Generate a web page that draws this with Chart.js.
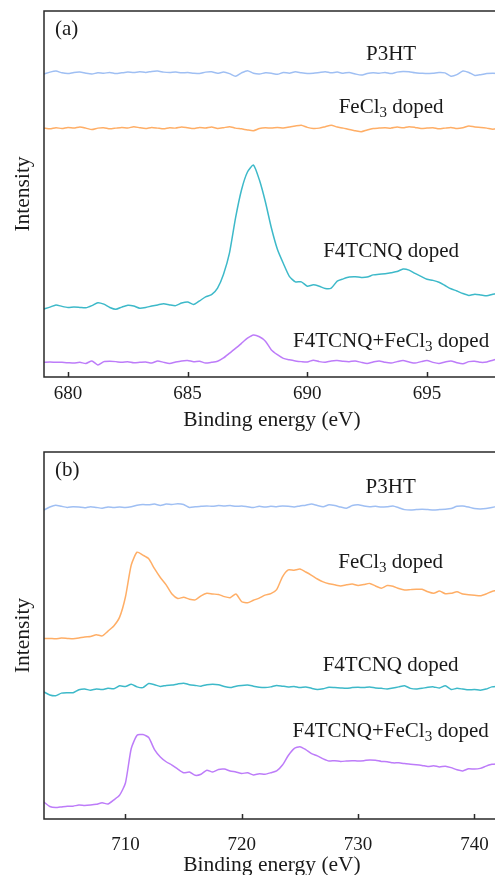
<!DOCTYPE html>
<html>
<head>
<meta charset="utf-8">
<script src="https://cdn.jsdelivr.net/npm/chart.js@4.4.1/dist/chart.umd.min.js"></script>
<style>
  html, body { margin: 0; padding: 0; background: #fff; overflow: hidden; width: 495px; height: 875px; }
  canvas { display: block; }
</style>
</head>
<body>
<canvas id="chartA" width="510" height="440"></canvas>
<canvas id="chartB" width="510" height="445"></canvas>
<script>
// panel (a): F 1s region, binding energy (eV)
const energyA = [
  679, 679.25, 679.5, 679.75, 680, 680.25, 680.5, 680.75, 681, 681.25, 681.5, 681.75,
  682, 682.25, 682.5, 682.75, 683, 683.25, 683.5, 683.75, 684, 684.25, 684.5, 684.75,
  685, 685.25, 685.5, 685.75, 686, 686.25, 686.5, 686.75, 687, 687.25, 687.5, 687.75,
  688, 688.25, 688.5, 688.75, 689, 689.25, 689.5, 689.75, 690, 690.25, 690.5, 690.75,
  691, 691.25, 691.5, 691.75, 692, 692.25, 692.5, 692.75, 693, 693.25, 693.5, 693.75,
  694, 694.25, 694.5, 694.75, 695, 695.25, 695.5, 695.75, 696, 696.25, 696.5, 696.75,
  697, 697.25, 697.5, 697.75, 698
];
const p3htA = [
  82.8, 83.3, 83.6, 83.1, 82.9, 83.2, 83.3, 83.0, 82.8, 83.1, 83.0, 83.2,
  82.9, 83.1, 83.3, 83.2, 83.4, 83.2, 83.5, 83.6, 83.3, 83.2, 83.3, 83.1,
  83.2, 83.0, 82.9, 83.3, 83.4, 83.0, 83.3, 82.9, 82.2, 83.1, 83.7, 83.0,
  82.8, 83.1, 83.0, 82.7, 83.2, 83.0, 83.4, 83.1, 82.9, 83.0, 83.2, 83.4,
  83.1, 83.3, 83.0, 83.2, 82.8, 82.5, 82.9, 83.1, 83.0, 83.2, 82.9, 83.3,
  83.5, 83.4, 83.1, 83.0, 82.9, 83.0, 83.2, 83.1, 82.2, 82.6, 83.6, 83.2,
  82.4, 82.6, 82.9, 83.0, 82.9
];
const fecl3A = [
  68.0, 67.8, 68.1, 67.9, 68.2, 68.0, 68.3, 68.0, 67.6, 68.0, 68.1, 67.8,
  68.0, 68.2, 68.0, 68.4, 68.1, 67.9, 68.2, 68.0, 67.8, 68.1, 68.0, 68.3,
  68.1, 67.9, 68.2, 68.0, 68.3, 67.9, 68.1, 68.4, 68.0, 67.8, 67.5, 67.3,
  67.9, 68.1, 68.0, 68.2, 68.0, 68.3, 68.6, 68.8, 68.2, 67.9, 68.0, 68.4,
  68.8, 68.3, 68.0, 67.6, 67.3, 67.0, 67.5, 67.9, 68.0, 68.1, 68.0, 68.3,
  68.1, 68.4, 68.2, 67.9, 68.0, 68.1, 67.8, 68.0, 68.2, 67.9, 68.1, 68.6,
  68.3, 68.2, 68.0, 67.7, 68.0
];
const f4tcnqA = [
  18.6, 19.1, 19.7, 19.3, 19.0, 19.1, 19.0, 18.9, 19.5, 20.3, 19.9, 19.0,
  18.5, 19.1, 19.6, 19.4, 18.8, 19.0, 19.4, 19.7, 20.0, 19.7, 19.5, 20.2,
  20.5, 19.8, 20.8, 21.9, 22.5, 24.3, 28.1, 33.9, 43.4, 51.1, 56.0, 57.9,
  53.8, 47.8, 40.7, 34.9, 31.0, 27.5, 26.0, 26.0, 24.8, 25.2, 24.8, 24.2,
  24.3, 26.2, 26.8, 27.3, 27.4, 27.2, 27.3, 27.9, 28.1, 28.2, 28.5, 28.8,
  29.5, 29.2, 28.3, 27.5, 26.7, 26.4, 25.9, 25.0, 24.1, 23.5, 22.8, 22.3,
  22.6, 22.4, 22.2, 22.6, 22.9
];
const bothA = [
  4.0, 4.1, 4.0, 4.0, 3.9, 3.8, 4.0, 3.7, 4.4, 3.3, 4.2, 4.3,
  4.2, 4.0, 4.2, 3.9, 4.0, 4.1, 3.8, 4.4, 4.0, 3.7, 4.1, 4.4,
  4.5, 4.2, 4.3, 3.8, 4.0, 4.3, 5.2, 6.5, 7.8, 9.2, 10.6, 11.5,
  11.0, 9.8, 7.4, 6.1, 5.1, 4.7, 4.4, 4.2, 4.1, 4.6, 4.2, 4.0,
  4.4, 4.5, 4.3, 4.2, 4.4, 4.0, 3.7, 4.1, 4.4, 4.0, 3.8, 4.2,
  4.5, 4.1, 3.8, 4.2, 4.5, 4.0, 3.7, 4.1, 4.4, 3.9, 3.6, 4.2,
  4.3, 4.0, 4.1, 4.6, 5.0
];

// panel (b): Fe 2p region
const energyB = [
  703, 703.5, 704, 704.5, 705, 705.5, 706, 706.5, 707, 707.5, 708, 708.5, 709, 709.5,
  710, 710.5, 711, 711.5, 712, 712.5, 713, 713.5, 714, 714.5, 715, 715.5, 716, 716.5,
  717, 717.5, 718, 718.5, 719, 719.5, 720, 720.5, 721, 721.5, 722, 722.5, 723, 723.5,
  724, 724.5, 725, 725.5, 726, 726.5, 727, 727.5, 728, 728.5, 729, 729.5, 730, 730.5,
  731, 731.5, 732, 732.5, 733, 733.5, 734, 734.5, 735, 735.5, 736, 736.5, 737, 737.5,
  738, 738.5, 739, 739.5, 740, 740.5, 741, 741.5, 742
];
const p3htB = [
  84.2, 85.0, 85.5, 85.2, 84.9, 85.1, 85.0, 84.8, 85.1, 84.9, 84.7, 85.0, 84.9, 85.0,
  84.9, 85.1, 85.5, 85.7, 85.6, 85.8, 85.4, 85.8, 85.7, 85.9, 85.7, 84.9, 85.1, 85.2,
  85.3, 85.2, 85.4, 85.3, 85.4, 85.2, 85.3, 85.1, 84.9, 85.2, 85.0, 85.2, 85.1, 85.3,
  85.2, 85.0, 85.3, 85.5, 85.8, 85.4, 85.1, 85.6, 85.4, 85.0, 84.7, 85.4, 85.6, 85.3,
  85.1, 85.2, 85.0, 85.1, 85.3, 84.8, 84.3, 84.2, 84.3, 84.4, 84.3, 84.2, 84.3, 84.4,
  84.6, 85.2, 85.3, 85.0, 84.6, 84.5, 84.6, 84.9, 85.2
];
const fecl3B = [
  49.2, 49.2, 49.1, 49.3, 49.2, 49.1, 49.3, 49.6, 49.7, 50.2, 49.9, 51.2, 52.6, 55.0,
  60.5, 69.2, 72.7, 71.9, 70.9, 68.2, 65.8, 63.8, 61.3, 60.1, 60.4, 59.9, 59.7, 60.8,
  61.5, 61.3, 61.2, 60.6, 60.3, 61.3, 59.2, 58.9, 59.6, 60.2, 61.0, 61.4, 62.5, 66.0,
  67.9, 67.8, 68.1, 67.3, 66.4, 65.4, 64.6, 64.1, 63.8, 63.5, 63.8, 64.0, 63.6, 63.9,
  64.2, 63.5, 62.9, 63.6, 63.4, 62.8, 62.4, 62.5, 62.6, 62.6, 61.9, 61.5, 62.1, 61.4,
  61.5, 61.9, 61.3, 61.1, 61.0, 60.8, 61.3, 62.0, 62.3
];
const f4tcnqB = [
  34.6, 33.8, 33.6, 34.3, 34.4, 34.4, 35.2, 35.4, 35.1, 35.4, 35.3, 35.6, 35.5, 36.3,
  36.1, 36.7, 36.0, 35.8, 36.9, 36.6, 36.1, 36.4, 36.5, 36.8, 37.0, 36.6, 36.4, 36.2,
  36.6, 36.7, 36.6, 36.1, 35.8, 36.2, 36.4, 36.5, 36.2, 35.9, 35.8, 36.0, 36.4, 36.2,
  36.0, 36.1, 35.8, 36.0, 35.6, 35.3, 35.5, 35.9, 35.8, 35.7, 35.6, 35.8, 35.9, 35.8,
  36.0, 35.7, 35.6, 35.4, 35.7, 36.0, 36.3, 35.6, 35.4, 35.6, 35.9, 36.0, 35.7, 36.3,
  35.3, 35.6, 35.4, 35.2, 35.3, 35.1, 35.4, 36.0, 36.1
];
const bothB = [
  4.6, 3.4, 3.1, 3.3, 3.5, 3.5, 3.8, 3.7, 3.8, 4.0, 4.4, 4.1, 5.2, 6.5,
  9.8, 19.2, 22.8, 23.0, 22.2, 18.9, 16.9, 15.6, 14.7, 13.6, 12.6, 12.8, 11.9, 12.2,
  13.3, 12.8, 13.5, 13.6, 13.1, 12.8, 12.4, 12.6, 12.0, 12.3, 12.2, 12.6, 13.1, 14.7,
  17.3, 19.2, 19.7, 18.9, 17.8, 17.2, 16.4, 15.8, 15.9, 15.7, 15.8, 15.9, 15.8, 15.9,
  16.1, 16.0, 15.7, 15.6, 15.3, 15.3, 15.1, 14.9, 14.8, 14.6, 14.3, 14.5, 14.2, 14.4,
  14.0, 13.4, 13.1, 13.7, 13.6, 13.8, 14.4, 14.9, 15.0
];

const seriesNames = ['P3HT', 'FeCl_3 doped', 'F4TCNQ doped', 'F4TCNQ+FeCl_3 doped'];
const seriesColors = ['#9fbff3', '#ffae66', '#3db9c9', '#bd7cf9'];
const ticksA = [680, 685, 690, 695];
const ticksB = [710, 720, 730, 740];
// where each curve name sits (energy, intensity at text baseline)
const labelXA = 693.5;
const labelYA = [86.6, 72.0, 32.7, 8.3];
const labelXB = 732.8;
const labelYB = [88.9, 68.3, 40.4, 22.3];

const SERIF = '"Liberation Serif", "Times New Roman", serif';
const INK = '#1a1a1a';

function drawRich(ctx, text, cx, baseY) {
  // "_3" marks a subscript digit
  const parts = [];
  text.split('_').forEach((seg, i) => {
    if (i === 0) { parts.push({ t: seg, sub: false }); return; }
    parts.push({ t: seg[0], sub: true });
    if (seg.length > 1) parts.push({ t: seg.slice(1), sub: false });
  });
  const big = '21px ' + SERIF, small = '15px ' + SERIF;
  let total = 0;
  parts.forEach(p => { ctx.font = p.sub ? small : big; p.w = ctx.measureText(p.t).width; total += p.w; });
  let x = cx - total / 2;
  ctx.textAlign = 'left';
  ctx.textBaseline = 'alphabetic';
  parts.forEach(p => {
    ctx.font = p.sub ? small : big;
    ctx.fillText(p.t, x, baseY + (p.sub ? 4 : 0));
    x += p.w;
  });
}

const panelDecor = {
  id: 'panelDecor',
  afterDatasetsDraw(chart, args, opts) {
    const { ctx, chartArea: a, scales: { x, y } } = chart;
    ctx.save();
    ctx.strokeStyle = '#2a2a2a';
    ctx.lineWidth = 1.5;
    ctx.beginPath();
    ctx.moveTo(a.right + 20, a.top);
    ctx.lineTo(a.left, a.top);
    ctx.lineTo(a.left, a.bottom);
    ctx.lineTo(a.right + 20, a.bottom);
    x.ticks.forEach(t => {
      const px = Math.round(x.getPixelForValue(t.value)) + 0.5;
      ctx.moveTo(px, a.bottom);
      ctx.lineTo(px, a.bottom - 5);
    });
    ctx.stroke();

    ctx.fillStyle = INK;
    ctx.font = '21px ' + SERIF;
    ctx.textAlign = 'left';
    ctx.textBaseline = 'alphabetic';
    ctx.fillText(opts.letter, a.left + 11, a.top + 24);

    const lx = x.getPixelForValue(opts.labelX);
    opts.names.forEach((name, i) => drawRich(ctx, name, lx, y.getPixelForValue(opts.labelY[i])));
    ctx.restore();
  }
};

function makePanel(id, energy, series, xMin, xMax, tickList, letter, labelX, labelY, topPad, xAxisH, titleBottomPad, tickPad) {
  return new Chart(document.getElementById(id), {
    type: 'line',
    data: {
      datasets: series.map((vals, i) => ({
        label: seriesNames[i],
        data: energy.map((e, k) => ({ x: e, y: vals[k] })),
        borderColor: seriesColors[i],
        borderWidth: 1.5,
        pointRadius: 0,
        tension: 0.2,
        fill: false,
      })),
    },
    options: {
      responsive: false,
      animation: false,
      layout: { padding: { top: topPad, right: 10, left: 0, bottom: 0 } },
      plugins: {
        legend: { display: false },
        tooltip: { enabled: false },
        panelDecor: { letter, names: seriesNames, labelX, labelY },
      },
      scales: {
        x: {
          type: 'linear',
          min: xMin,
          max: xMax,
          grid: { display: false, drawTicks: false },
          border: { display: false },
          afterBuildTicks: s => { s.ticks = tickList.map(v => ({ value: v })); },
          afterFit: s => { s.height = xAxisH; },
          ticks: { color: INK, font: { family: SERIF, size: 19 }, padding: tickPad, maxRotation: 0 },
          title: {
            display: true, text: 'Binding energy (eV)', color: INK,
            font: { family: SERIF, size: 21.5 }, padding: { top: 0, bottom: titleBottomPad },
          },
        },
        y: {
          min: 0,
          max: 100,
          grid: { display: false, drawTicks: false },
          border: { display: false },
          ticks: { display: false },
          afterFit: s => { s.width = 44; },
          title: {
            display: true, text: 'Intensity', color: INK,
            font: { family: SERIF, size: 21.5 }, padding: { top: 10, bottom: 0 },
          },
        },
      },
    },
    plugins: [panelDecor],
  });
}

makePanel('chartA', energyA, [p3htA, fecl3A, f4tcnqA, bothA], 679, 698.05, ticksA, '(a)',
  labelXA, labelYA, 11, 63, 7, 6);
makePanel('chartB', energyB, [p3htB, fecl3B, f4tcnqB, bothB], 703, 742.2, ticksB, '(b)',
  labelXB, labelYB, 12, 66, 6.5, 15);
</script>
</body>
</html>
